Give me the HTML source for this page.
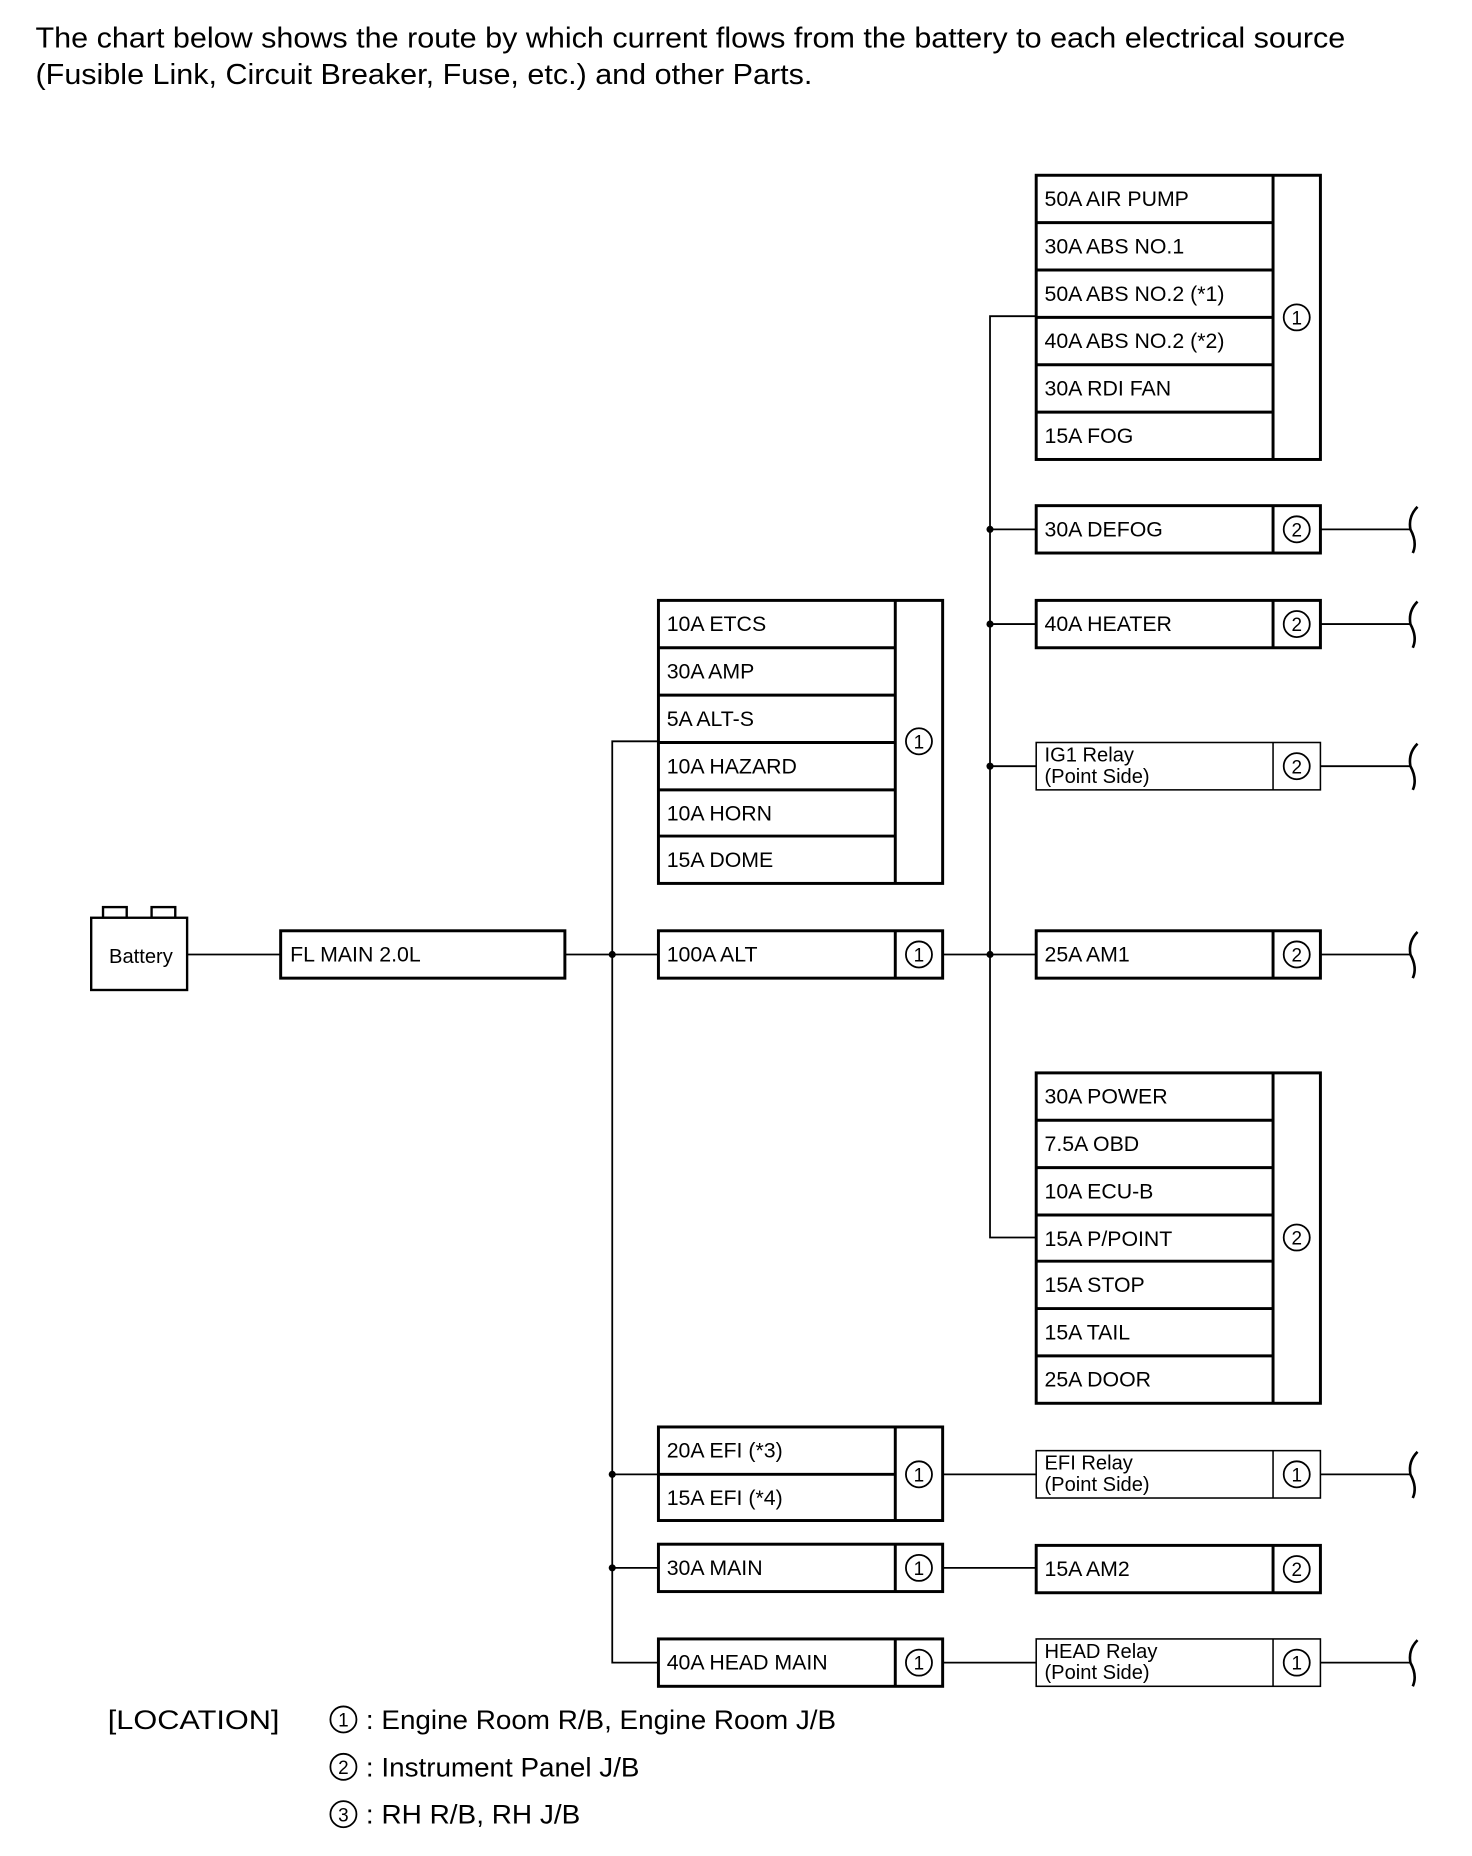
<!DOCTYPE html>
<html><head><meta charset="utf-8"><style>
html,body{margin:0;padding:0;background:#fff;}
svg{display:block;}
text{font-family:"Liberation Sans",Arial,sans-serif;fill:#000;}
</style></head><body>
<svg width="1472" height="1856" viewBox="0 0 1243 1567.3" preserveAspectRatio="none" xmlns="http://www.w3.org/2000/svg">
<rect x="0" y="0" width="1243" height="1568" fill="#fff"/>
<text x="30" y="40" font-size="24" textLength="1106" lengthAdjust="spacingAndGlyphs">The chart below shows the route by which current flows from the battery to each electrical source</text>
<text x="30" y="71" font-size="24" textLength="656" lengthAdjust="spacingAndGlyphs">(Fusible Link, Circuit Breaker, Fuse, etc.) and other Parts.</text>

<g stroke="#000" fill="none" stroke-width="1.5">
<polyline points="556,626 517,626 517,1404 556,1404"/>
<polyline points="875,267 836,267 836,1045 875,1045"/>
<line x1="158" y1="806" x2="237" y2="806"/>
<line x1="477" y1="806" x2="556" y2="806"/>
<line x1="796" y1="806" x2="875" y2="806"/>
<line x1="836" y1="447" x2="875" y2="447"/>
<line x1="836" y1="527" x2="875" y2="527"/>
<line x1="836" y1="647" x2="875" y2="647"/>
<line x1="517" y1="1245" x2="556" y2="1245"/>
<line x1="796" y1="1245" x2="875" y2="1245"/>
<line x1="517" y1="1324" x2="556" y2="1324"/>
<line x1="796" y1="1324" x2="875" y2="1324"/>
<line x1="796" y1="1404" x2="875" y2="1404"/>
<line x1="1115" y1="447" x2="1191" y2="447"/>
<line x1="1115" y1="527" x2="1191" y2="527"/>
<line x1="1115" y1="647" x2="1191" y2="647"/>
<line x1="1115" y1="806" x2="1191" y2="806"/>
<line x1="1115" y1="1245" x2="1191" y2="1245"/>
<line x1="1115" y1="1404" x2="1191" y2="1404"/>
</g>
<g stroke="#000" fill="none" stroke-width="2.2">
<path d="M1197,428 Q1189,436 1191,447 Q1197,458 1193,467"/>
<path d="M1197,508 Q1189,516 1191,527 Q1197,538 1193,547"/>
<path d="M1197,628 Q1189,636 1191,647 Q1197,658 1193,667"/>
<path d="M1197,787 Q1189,795 1191,806 Q1197,817 1193,826"/>
<path d="M1197,1226 Q1189,1234 1191,1245 Q1197,1256 1193,1265"/>
<path d="M1197,1385 Q1189,1393 1191,1404 Q1197,1415 1193,1424"/>
</g>
<g fill="#000">
<circle cx="517" cy="806" r="3"/><circle cx="517" cy="1245" r="3"/><circle cx="517" cy="1324" r="3"/>
<circle cx="836" cy="447" r="3"/><circle cx="836" cy="527" r="3"/><circle cx="836" cy="647" r="3"/><circle cx="836" cy="806" r="3"/>
</g>

<g stroke="#000" fill="#fff" stroke-width="2">
<rect x="87" y="766" width="20" height="9"/>
<rect x="128" y="766" width="20" height="9"/>
<rect x="77" y="775" width="81" height="61"/>
</g>
<text x="119" y="813" font-size="17" text-anchor="middle">Battery</text>

<rect x="237" y="786" width="240" height="40" fill="none" stroke="#000" stroke-width="2.5"/>
<text x="245" y="812" font-size="18">FL MAIN 2.0L</text>

<g stroke="#000" fill="none" stroke-width="2.5">
<rect x="875" y="148" width="240" height="240"/><line x1="1075" y1="148" x2="1075" y2="388"/>
<line x1="875" y1="188" x2="1075" y2="188"/><line x1="875" y1="228" x2="1075" y2="228"/><line x1="875" y1="268" x2="1075" y2="268"/><line x1="875" y1="308" x2="1075" y2="308"/><line x1="875" y1="348" x2="1075" y2="348"/>
<rect x="875" y="427" width="240" height="40"/><line x1="1075" y1="427" x2="1075" y2="467"/>
<rect x="875" y="507" width="240" height="40"/><line x1="1075" y1="507" x2="1075" y2="547"/>
<rect x="875" y="786" width="240" height="40"/><line x1="1075" y1="786" x2="1075" y2="826"/>
<rect x="875" y="906" width="240" height="279"/><line x1="1075" y1="906" x2="1075" y2="1185"/>
<line x1="875" y1="946" x2="1075" y2="946"/><line x1="875" y1="986" x2="1075" y2="986"/><line x1="875" y1="1026" x2="1075" y2="1026"/><line x1="875" y1="1065" x2="1075" y2="1065"/><line x1="875" y1="1105" x2="1075" y2="1105"/><line x1="875" y1="1145" x2="1075" y2="1145"/>
<rect x="875" y="1305" width="240" height="40"/><line x1="1075" y1="1305" x2="1075" y2="1345"/>
<rect x="556" y="507" width="240" height="239"/><line x1="756" y1="507" x2="756" y2="746"/>
<line x1="556" y1="547" x2="756" y2="547"/><line x1="556" y1="587" x2="756" y2="587"/><line x1="556" y1="627" x2="756" y2="627"/><line x1="556" y1="667" x2="756" y2="667"/><line x1="556" y1="706" x2="756" y2="706"/>
<rect x="556" y="786" width="240" height="40"/><line x1="756" y1="786" x2="756" y2="826"/>
<rect x="556" y="1205" width="240" height="79"/><line x1="756" y1="1205" x2="756" y2="1284"/><line x1="556" y1="1245" x2="756" y2="1245"/>
<rect x="556" y="1304" width="240" height="40"/><line x1="756" y1="1304" x2="756" y2="1344"/>
<rect x="556" y="1384" width="240" height="40"/><line x1="756" y1="1384" x2="756" y2="1424"/>
</g>
<g stroke="#000" fill="none" stroke-width="1.3">
<rect x="875" y="627" width="240" height="40"/><line x1="1075" y1="627" x2="1075" y2="667"/>
<rect x="875" y="1225" width="240" height="40"/><line x1="1075" y1="1225" x2="1075" y2="1265"/>
<rect x="875" y="1384" width="240" height="40"/><line x1="1075" y1="1384" x2="1075" y2="1424"/>
</g>

<g stroke="#000" fill="none" stroke-width="1.5">
<circle cx="1095" cy="268" r="11"/><circle cx="1095" cy="447" r="11"/><circle cx="1095" cy="527" r="11"/><circle cx="1095" cy="647" r="11"/><circle cx="1095" cy="806" r="11"/><circle cx="1095" cy="1045" r="11"/><circle cx="1095" cy="1245" r="11"/><circle cx="1095" cy="1325" r="11"/><circle cx="1095" cy="1404" r="11"/>
<circle cx="776" cy="626" r="11"/><circle cx="776" cy="806" r="11"/><circle cx="776" cy="1245" r="11"/><circle cx="776" cy="1324" r="11"/><circle cx="776" cy="1404" r="11"/>
<circle cx="290" cy="1452" r="11"/><circle cx="290" cy="1492" r="11"/><circle cx="290" cy="1532" r="11"/>
</g>
<g font-size="16" text-anchor="middle">
<text x="1095" y="274">1</text><text x="1095" y="453">2</text><text x="1095" y="533">2</text><text x="1095" y="653">2</text><text x="1095" y="812">2</text><text x="1095" y="1051">2</text><text x="1095" y="1251">1</text><text x="1095" y="1331">2</text><text x="1095" y="1410">1</text>
<text x="776" y="632">1</text><text x="776" y="812">1</text><text x="776" y="1251">1</text><text x="776" y="1330">1</text><text x="776" y="1410">1</text>
<text x="290" y="1458">1</text><text x="290" y="1498">2</text><text x="290" y="1538">3</text>
</g>

<g font-size="18">
<text x="882" y="174">50A AIR PUMP</text>
<text x="882" y="214">30A ABS NO.1</text>
<text x="882" y="254">50A ABS NO.2 (*1)</text>
<text x="882" y="294">40A ABS NO.2 (*2)</text>
<text x="882" y="334">30A RDI FAN</text>
<text x="882" y="374">15A FOG</text>
<text x="882" y="453">30A DEFOG</text>
<text x="882" y="533">40A HEATER</text>
<text x="882" y="812">25A AM1</text>
<text x="882" y="932">30A POWER</text>
<text x="882" y="972">7.5A OBD</text>
<text x="882" y="1012">10A ECU-B</text>
<text x="882" y="1052">15A P/POINT</text>
<text x="882" y="1091">15A STOP</text>
<text x="882" y="1131">15A TAIL</text>
<text x="882" y="1171">25A DOOR</text>
<text x="882" y="1331">15A AM2</text>
<text x="563" y="533">10A ETCS</text>
<text x="563" y="573">30A AMP</text>
<text x="563" y="613">5A ALT-S</text>
<text x="563" y="653">10A HAZARD</text>
<text x="563" y="693">10A HORN</text>
<text x="563" y="732">15A DOME</text>
<text x="563" y="812">100A ALT</text>
<text x="563" y="1231">20A EFI (*3)</text>
<text x="563" y="1271">15A EFI (*4)</text>
<text x="563" y="1330">30A MAIN</text>
<text x="563" y="1410">40A HEAD MAIN</text>
</g>
<g font-size="17">
<text x="882" y="643">IG1 Relay</text><text x="882" y="661">(Point Side)</text>
<text x="882" y="1241">EFI Relay</text><text x="882" y="1259">(Point Side)</text>
<text x="882" y="1400">HEAD Relay</text><text x="882" y="1418">(Point Side)</text>
</g>

<g font-size="23">
<text x="91" y="1460" textLength="145" lengthAdjust="spacingAndGlyphs">[LOCATION]</text>
<text x="309" y="1460" textLength="397" lengthAdjust="spacingAndGlyphs">: Engine Room R/B, Engine Room J/B</text>
<text x="309" y="1500" textLength="231" lengthAdjust="spacingAndGlyphs">: Instrument Panel J/B</text>
<text x="309" y="1540" textLength="181" lengthAdjust="spacingAndGlyphs">: RH R/B, RH J/B</text>
</g>
</svg>
</body></html>
